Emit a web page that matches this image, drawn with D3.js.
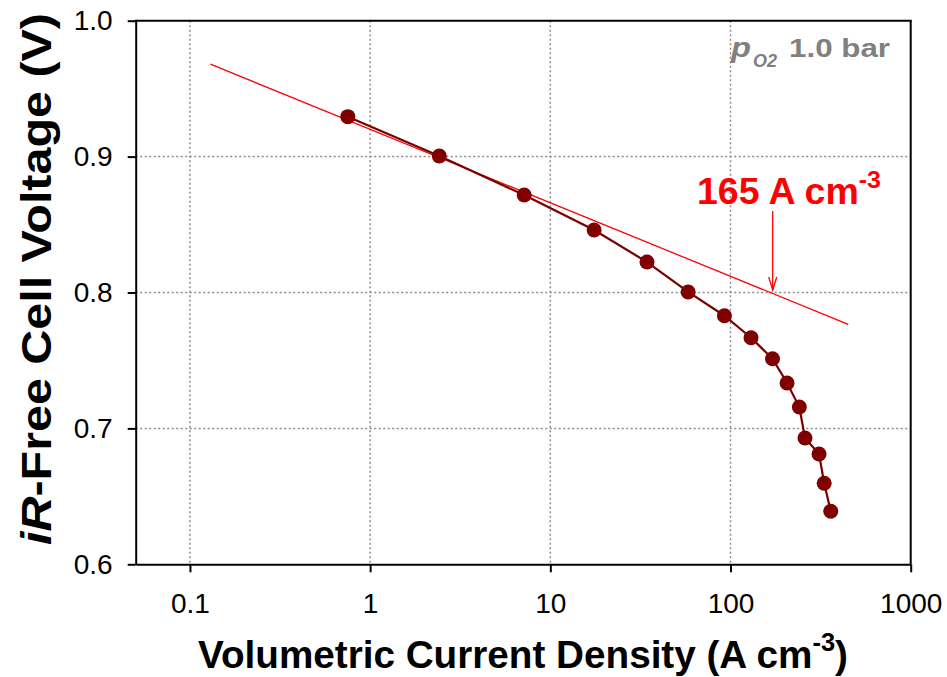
<!DOCTYPE html>
<html>
<head>
<meta charset="utf-8">
<script src="https://cdn.jsdelivr.net/npm/d3@7"></script>
<style>
  html, body { margin: 0; padding: 0; background: #fff; }
  svg { display: block; font-family: Arial, "Liberation Sans", Helvetica, sans-serif; }
</style>
</head>
<body>
<svg id="chart" width="947" height="677"></svg>
<script>
// Measured polarization curve (iR-free voltage vs volumetric current density)
const currentDensity = [0.752, 2.42, 7.16, 17.5, 34.4, 58.2, 92.5, 130, 171, 206, 241, 259, 310, 331, 360];
const cellVoltage    = [0.9294, 0.9004, 0.8717, 0.846, 0.8224, 0.8004, 0.7829, 0.7667, 0.7513, 0.7334, 0.7157, 0.6929, 0.6812, 0.6596, 0.639];

// Tafel extrapolation line (end points)
const tafelCurrent = [0.13, 450];
const tafelVoltage = [0.968, 0.7766];

// Marked current density at 0.8 V
const markCurrent = 165;
const markArrowFrom = 0.860;
const markArrowTo = 0.8018;

// Axis ticks
const xTicks = [0.1, 1, 10, 100, 1000];
const xTickLabels = ["0.1", "1", "10", "100", "1000"];
const yTicks = [0.6, 0.7, 0.8, 0.9, 1.0];
const yTickLabels = ["0.6", "0.7", "0.8", "0.9", "1.0"];

const svg = d3.select("#chart");
const plotLeft = 135.7, plotRight = 910.7, plotTop = 20.7, plotBottom = 564.3;

const x = d3.scaleLog().domain([0.05, 1000]).range([plotLeft, plotRight]);
const y = d3.scaleLinear().domain([0.6, 1.0]).range([plotBottom, plotTop]);

const gridColor = "#8c8c8c";

// Grid lines
svg.append("g").selectAll("line")
  .data(xTicks.filter(t => t < 1000))
  .join("line")
  .attr("x1", d => x(d)).attr("x2", d => x(d))
  .attr("y1", plotTop).attr("y2", plotBottom)
  .attr("stroke", gridColor).attr("stroke-width", 1.5)
  .attr("stroke-dasharray", "2,2.5");

svg.append("g").selectAll("line")
  .data(yTicks.filter(t => t > 0.6 && t < 1.0))
  .join("line")
  .attr("x1", plotLeft).attr("x2", plotRight)
  .attr("y1", d => y(d)).attr("y2", d => y(d))
  .attr("stroke", gridColor).attr("stroke-width", 1.5)
  .attr("stroke-dasharray", "2,2.5");

// Axes
const xAxis = d3.axisBottom(x).tickValues(xTicks)
  .tickFormat((d, i) => xTickLabels[i]).tickSizeInner(8).tickSizeOuter(0).tickPadding(21);
const gx = svg.append("g").attr("transform", `translate(0,${plotBottom})`).call(xAxis);
gx.select(".domain").attr("stroke", "#000").attr("stroke-width", 2);
gx.selectAll(".tick line").attr("stroke", "#000").attr("stroke-width", 2);
gx.selectAll(".tick text").attr("font-size", 28).attr("fill", "#000")
  .attr("font-family", "Arial, 'Liberation Sans', sans-serif");

const yAxis = d3.axisLeft(y).tickValues(yTicks)
  .tickFormat((d, i) => yTickLabels[i]).tickSizeInner(8).tickSizeOuter(0).tickPadding(15);
const gy = svg.append("g").attr("transform", `translate(${plotLeft},0)`).call(yAxis);
gy.select(".domain").attr("stroke", "#000").attr("stroke-width", 2);
gy.selectAll(".tick line").attr("stroke", "#000").attr("stroke-width", 2);
gy.selectAll(".tick text").attr("font-size", 28).attr("fill", "#000")
  .attr("font-family", "Arial, 'Liberation Sans', sans-serif");

// Frame top and right
svg.append("line").attr("x1", plotLeft - 1).attr("x2", plotRight + 1).attr("y1", plotTop).attr("y2", plotTop)
  .attr("stroke", "#000").attr("stroke-width", 2);
svg.append("line").attr("x1", plotRight).attr("x2", plotRight).attr("y1", plotTop).attr("y2", plotBottom)
  .attr("stroke", "#000").attr("stroke-width", 2);

// Tafel line
svg.append("line")
  .attr("x1", x(tafelCurrent[0])).attr("y1", y(tafelVoltage[0]))
  .attr("x2", x(tafelCurrent[1])).attr("y2", y(tafelVoltage[1]))
  .attr("stroke", "#ff0000").attr("stroke-width", 1.3);

// Measured curve
const pts = currentDensity.map((c, i) => [c, cellVoltage[i]]);
svg.append("path")
  .attr("d", d3.line().x(d => x(d[0])).y(d => y(d[1]))(pts))
  .attr("fill", "none").attr("stroke", "#7a0000").attr("stroke-width", 2.2);
svg.append("g").selectAll("circle")
  .data(pts).join("circle")
  .attr("cx", d => x(d[0])).attr("cy", d => y(d[1]))
  .attr("r", 7.5).attr("fill", "#800000");

// Annotation arrow
const ax = x(markCurrent) + 3;
svg.append("line").attr("x1", ax).attr("x2", ax)
  .attr("y1", y(markArrowFrom)).attr("y2", y(markArrowTo))
  .attr("stroke", "#ff0000").attr("stroke-width", 1.3);
svg.append("path")
  .attr("d", `M${ax - 4},${y(markArrowTo) - 13} L${ax},${y(markArrowTo)} L${ax + 4},${y(markArrowTo) - 13}`)
  .attr("fill", "none").attr("stroke", "#ff0000").attr("stroke-width", 1.3);

// Annotation label
const lbl = svg.append("text").attr("x", 697).attr("y", 204)
  .attr("font-size", 36).attr("font-weight", "bold").attr("fill", "#ff0000")
  .attr("textLength", 184).attr("lengthAdjust", "spacingAndGlyphs");
lbl.append("tspan").text("165 A");
lbl.append("tspan").text(" cm");
lbl.append("tspan").attr("font-size", 24).attr("dy", -16).text("-3");

// Oxygen partial pressure label
svg.append("text").attr("x", 731).attr("y", 57.3)
  .attr("font-size", 27).attr("font-weight", "bold").attr("font-style", "italic")
  .attr("fill", "#808080").attr("textLength", 20).attr("lengthAdjust", "spacingAndGlyphs").text("p");
svg.append("text").attr("x", 753).attr("y", 66.5)
  .attr("font-size", 19).attr("font-weight", "bold").attr("font-style", "italic")
  .attr("fill", "#808080").attr("textLength", 24).attr("lengthAdjust", "spacingAndGlyphs").text("O2");
svg.append("text").attr("x", 789).attr("y", 57.3)
  .attr("font-size", 26).attr("font-weight", "bold")
  .attr("fill", "#808080").attr("textLength", 101).attr("lengthAdjust", "spacingAndGlyphs").text("1.0 bar");

// X axis title
const xt = svg.append("text").attr("x", 198).attr("y", 668)
  .attr("font-size", 38).attr("font-weight", "bold").attr("fill", "#000")
  .attr("textLength", 650).attr("lengthAdjust", "spacingAndGlyphs");
xt.append("tspan").text("Volumetric Current Density (A");
xt.append("tspan").text(" cm");
xt.append("tspan").attr("font-size", 25).attr("dy", -17).text("-3");
xt.append("tspan").attr("dy", 17).text(")");

// Y axis title
const yt = svg.append("text")
  .attr("transform", "translate(51,545) rotate(-90)")
  .attr("font-size", 42).attr("font-weight", "bold").attr("fill", "#000")
  .attr("textLength", 532).attr("lengthAdjust", "spacingAndGlyphs");
yt.append("tspan").attr("font-style", "italic").text("iR");
yt.append("tspan").text("-Free Cell Voltage (V)");
</script>
</body>
</html>
